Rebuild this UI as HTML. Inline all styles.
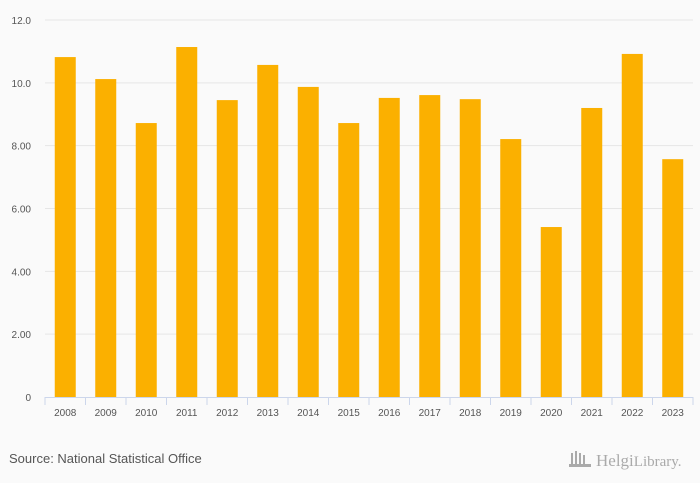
<!DOCTYPE html>
<html><head><meta charset="utf-8"><style>
html,body{margin:0;padding:0;background:#fafafa;}
svg{display:block;font-family:"Liberation Sans",sans-serif;}
</style></head><body>
<svg id="chart" width="700" height="483" viewBox="0 0 700 483">
<rect width="700" height="483" fill="#fafafa"/>
<g id="grid"></g><g id="bars"></g><g id="xaxis"></g>
<text x="9" y="463" font-size="13" fill="#555">Source: National Statistical Office</text>
<g>
<g fill="#aaa"><rect x="571" y="453" width="2" height="12"/><rect x="575" y="451" width="2" height="14"/><rect x="579" y="453" width="2" height="12"/><rect x="583" y="455" width="2" height="10"/><rect x="569" y="464" width="22" height="3"/></g>
<text x="596" y="466" font-size="17" fill="#aaa" font-family="'Liberation Serif',serif">Helgi<tspan font-size="15">Library.</tspan></text>
</g>
</svg>
<script>
const categories=["2008","2009","2010","2011","2012","2013","2014","2015","2016","2017","2018","2019","2020","2021","2022","2023"];
const values=[10.82,10.12,8.72,11.14,9.45,10.57,9.87,8.72,9.52,9.61,9.48,8.21,5.41,9.2,10.92,7.57];
const yTicks=[0,2,4,6,8,10,12];
const yTickLabels=["0","2.00","4.00","6.00","8.00","10.0","12.0"];
const NS="http://www.w3.org/2000/svg";
const x0=45,x1=693,yTop=20,yBot=397,yMax=12;
const band=(x1-x0)/categories.length;
const yS=v=>yBot-(v/yMax)*(yBot-yTop);
const xS=i=>x0+i*band;
function mk(tag,attrs,parent){const e=document.createElementNS(NS,tag);for(const k in attrs)e.setAttribute(k,attrs[k]);parent.appendChild(e);return e;}
const grid=document.getElementById('grid'),bars=document.getElementById('bars'),xa=document.getElementById('xaxis');
yTicks.forEach((t,i)=>{
  if(t>0){const l=mk('line',{x1:x0,x2:x1,y1:yS(t),y2:yS(t),stroke:'#e6e6e6','stroke-width':1},grid);
  
  }
  const tx=mk('text',{x:31,y:yS(t)+4,'font-size':10,fill:'#555','text-anchor':'end'},grid);
  tx.textContent=yTickLabels[i];
  
  
});
values.forEach((v,i)=>{
  const w=21;
  const r=mk('rect',{x:xS(i)+band/2-w/2,y:yS(v),width:w,height:yBot-yS(v),fill:'#fbb000'},bars);
  
  
});
const ax=mk('line',{x1:x0,x2:x1,y1:yBot+0.5,y2:yBot+0.5,stroke:'#ccd6eb','stroke-width':1},xa);


for(let i=0;i<=categories.length;i++){
  const t=mk('line',{x1:xS(i),x2:xS(i),y1:yBot,y2:yBot+8,stroke:'#ccd6eb','stroke-width':1},xa);
  
  
}
categories.forEach((c,i)=>{
  const t=mk('text',{x:xS(i)+band/2,y:416,'font-size':10,fill:'#555','text-anchor':'middle'},xa);
  t.textContent=c;
  
  
});
</script>
</body></html>
